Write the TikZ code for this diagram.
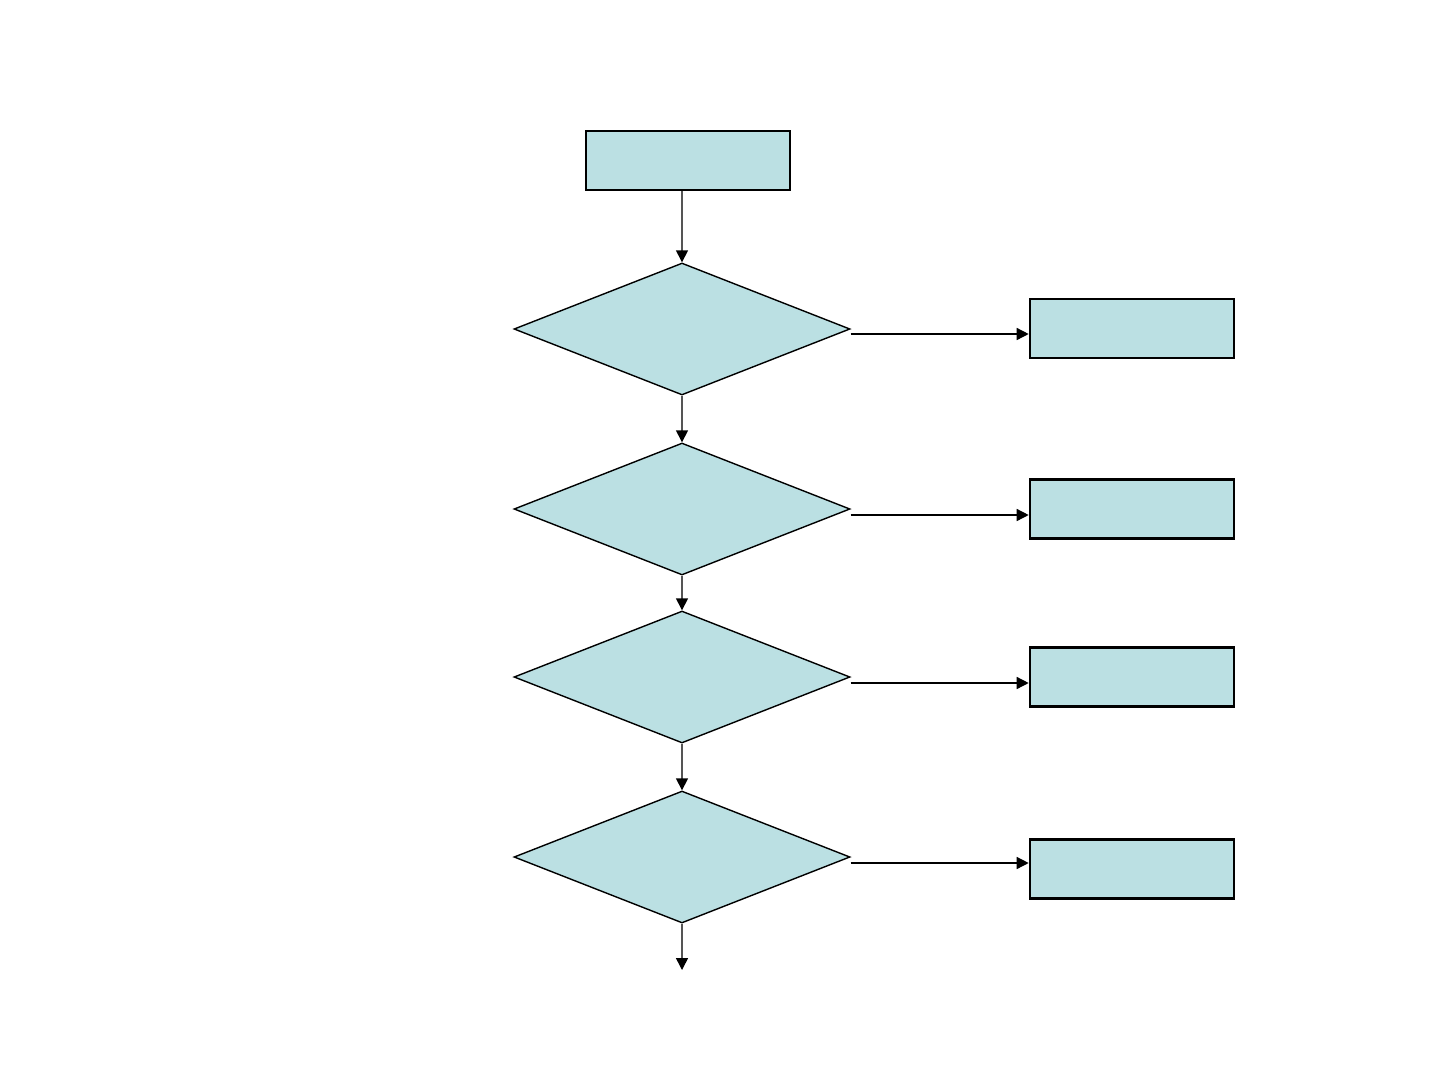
\documentclass[tikz,border=0pt]{standalone}
\usetikzlibrary{shapes.geometric,arrows.meta}
\definecolor{boxfill}{HTML}{BBE0E3}
\definecolor{vline}{HTML}{555555}
\tikzset{
  procbox/.style={draw=black,line width=2.6pt,fill=boxfill,rectangle,inner sep=0pt,minimum width=204pt,minimum height=59pt},
  decbox/.style={draw=black,line width=1.4pt,fill=boxfill,diamond,aspect=2.545,inner sep=0pt,minimum width=336pt,minimum height=132pt},
  varr/.style={draw=vline,line width=1.5pt,-{Triangle[length=12pt,width=12pt,color=black]}},
  harr/.style={draw=black,line width=1.4pt,-{Triangle[length=12pt,width=12pt]}}
}
\begin{document}
\begin{tikzpicture}[x=1pt,y=-1pt]
\useasboundingbox[fill=white] (0,0) rectangle (1437,1079);
\node[procbox] (top) at (688,160.5) {};
\node[decbox] (d1) at (682,329) {};
\node[decbox] (d2) at (682,509) {};
\node[decbox] (d3) at (682,677) {};
\node[decbox] (d4) at (682,857) {};
\node[procbox] (b1) at (1132,328.5) {};
\node[procbox] (b2) at (1132,509) {};
\node[procbox] (b3) at (1132,677) {};
\node[procbox] (b4) at (1132,869) {};
\coordinate (endpt) at (682,970);
\draw[varr] (d1.north |- top.south) -- (d1.north);
\draw[varr] (d1.south) -- (d2.north);
\draw[varr] (d2.south) -- (d3.north);
\draw[varr] (d3.south) -- (d4.north);
\draw[varr] (d4.south) -- (endpt);
\draw[harr] ([yshift=-5pt]d1.east) -- ([yshift=-5pt]d1.east -| b1.west);
\draw[harr] ([yshift=-6pt]d2.east) -- ([yshift=-6pt]d2.east -| b2.west);
\draw[harr] ([yshift=-6pt]d3.east) -- ([yshift=-6pt]d3.east -| b3.west);
\draw[harr] ([yshift=-6pt]d4.east) -- ([yshift=-6pt]d4.east -| b4.west);
\end{tikzpicture}
\end{document}
